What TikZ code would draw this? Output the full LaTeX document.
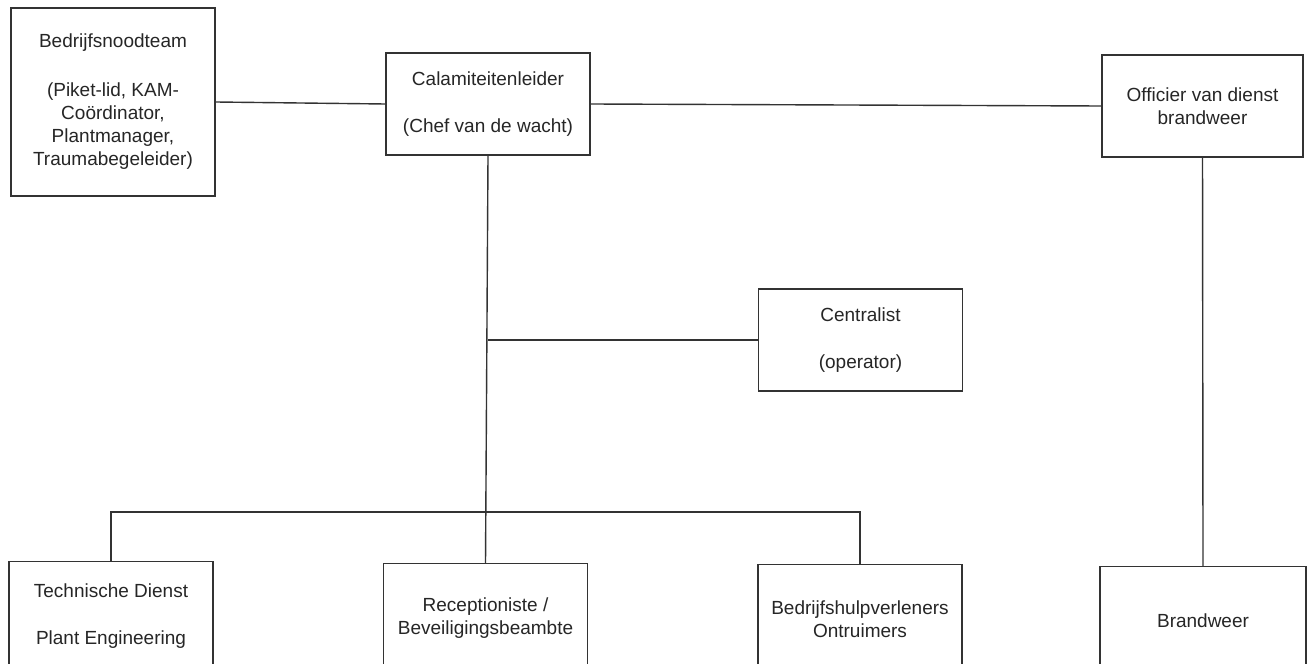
\documentclass[tikz,border=0pt]{standalone}
\usepackage{fontspec}
\setmainfont{Liberation Sans}
\tikzstyle{unit}=[draw=black!80, line width=0.7pt, minimum width=102pt, minimum height=51pt, inner sep=2pt, align=center, text=black!85, font=\fontsize{9.5}{11.5}\selectfont]
\tikzstyle{bottom unit}=[unit, anchor=north, minimum height=54pt]
\tikzstyle{link}=[draw=black!80, line width=0.7pt]

\begin{document}
\begin{tikzpicture}[x=0.5pt, y=-0.5pt]
  \fill[white] (0,0) rectangle (1309,663);
  \useasboundingbox (0,0) rectangle (1309,663);
  \clip (0,0) rectangle (1309,663);

  \node[unit, minimum height=94pt] (team) at (113,102) {Bedrijfsnoodteam\\[13pt](Piket-lid, KAM-\\Coördinator,\\Plantmanager,\\Traumabegeleider)};
  \node[unit] (leader) at (488,104) {Calamiteitenleider\\[12pt](Chef van de wacht)};
  \node[unit, minimum width=100.5pt] (officer) at (1202.5,106) {Officier van dienst\\brandweer};
  \node[unit] (centralist) at (860.5,340) {Centralist\\[12pt](operator)};

  \node[bottom unit] (tech_dienst) at (111,561) {Technische Dienst\\[12pt]Plant Engineering};
  \node[bottom unit] (reception) at (485.5,563) {Receptioniste /\\Beveiligingsbeambte};
  \node[bottom unit] (bhv) at (860,564) {Bedrijfshulpverleners\\Ontruimers};
  \node[bottom unit, minimum width=103pt] (brandweer) at (1203,566) {Brandweer};

  \coordinate (branch) at (leader.south |- centralist.west);
  \coordinate (bus) at (487,512);

  \draw[link] (team.east) -- (leader.west);
  \draw[link] (leader.east) -- (officer.west);
  \draw[link] (leader.south) -- (reception.north);
  \draw[link] (branch) -- (centralist.west);
  \draw[link] (tech_dienst.north) |- (bus) -| (bhv.north);
  \draw[link] (officer.south) -- (brandweer.north);
\end{tikzpicture}
\end{document}
